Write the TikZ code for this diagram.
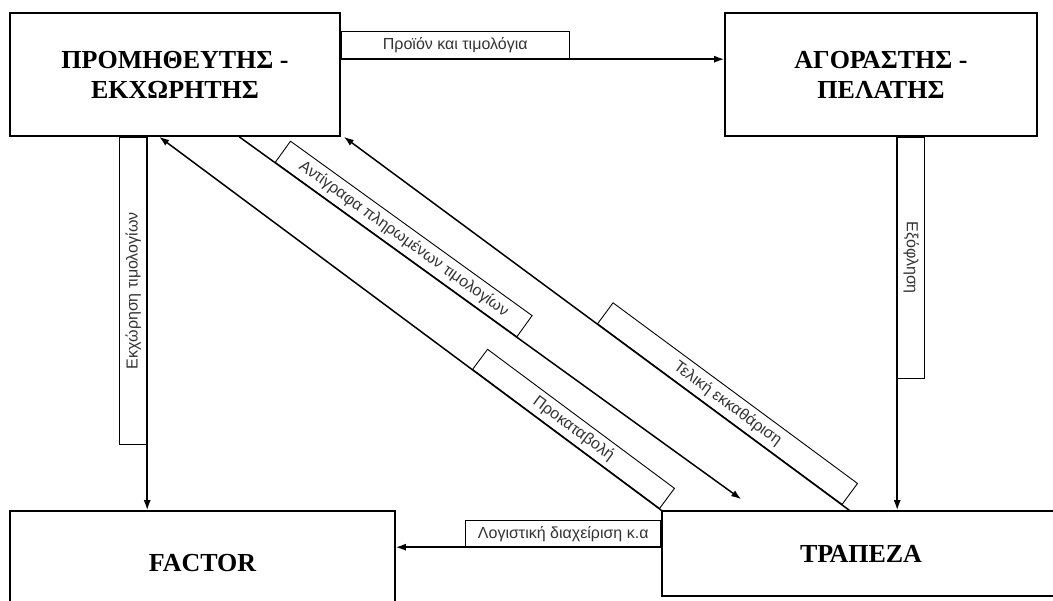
\documentclass[tikz,border=0pt]{standalone}
\usepackage{fontspec}
\setmainfont{Liberation Serif}
\setsansfont{Liberation Sans}
\usetikzlibrary{calc,arrows.meta}

\begin{document}
\begin{tikzpicture}[x=1pt, y=-1pt,
  entity/.style={draw, line width=1.6pt, inner sep=0pt, align=center,
    font=\fontsize{26}{30}\selectfont\bfseries},
  tag/.style={draw, line width=0.9pt, inner sep=0pt, minimum height=27pt,
    text=black!80, font=\sffamily\fontsize{16}{19}\selectfont},
  flow/.style={line width=1.5pt, >={Latex[length=10pt,width=7pt]}}]
\useasboundingbox (0,0) rectangle (1053,601);
\clip (0,0) rectangle (1053,601);
% the four parties
\node[entity, minimum width=330pt, minimum height=123pt] (supplier) at (175,74.5) {ΠΡΟΜΗΘΕΥΤΗΣ -\\ΕΚΧΩΡΗΤΗΣ};
\node[entity, minimum width=312pt, minimum height=123pt] (buyer) at (881,74.5) {ΑΓΟΡΑΣΤΗΣ -\\ΠΕΛΑΤΗΣ};
\node[entity, minimum width=385pt, minimum height=104pt] (factor) at (202.5,563) {FACTOR};
\node[entity, minimum width=398pt, minimum height=85pt] (bank) at (861,553.5) {ΤΡΑΠΕΖΑ};
% straight flows
\coordinate (s1) at ($(supplier.north east)+(0,47)$);
\draw[flow,->] (s1) -- (s1 -| buyer.west);
\node[tag, anchor=south west, minimum width=228pt] (tagproduct) at (s1) {Προϊόν και τιμολόγια};
\coordinate (s2) at ($(supplier.south west)+(138,0)$);
\draw[flow,->] (s2) -- (s2 |- factor.north);
\node[tag, rotate=90, anchor=south east, minimum width=307pt] (tagassign) at (s2) {Εκχώρηση τιμολογίων};
\coordinate (b1) at ($(buyer.south west)+(173,0)$);
\draw[flow,->] (b1) -- (b1 |- bank.north);
\node[tag, rotate=-90, anchor=south west, minimum width=241pt] (tagpay) at (b1) {Εξόφληση};
\coordinate (k1) at ($(bank.north west)+(0,37)$);
\draw[flow,->] (k1) -- (k1 -| factor.east);
\node[tag, anchor=south east, minimum width=195pt, minimum height=26pt] (tagbook) at (k1) {Λογιστική διαχείριση κ.α};
% diagonal flows
\draw[flow,<-] ($(supplier.south west)+(150,0)$) -- node[tag, sloped, anchor=south, pos=.81, minimum width=233pt, minimum height=25pt] (tagadvance) {Προκαταβολή} (bank.north west);
\draw[flow,->] ($(supplier.south west)+(230,0)$) -- node[tag, sloped, anchor=south, pos=.312, minimum width=298pt, minimum height=26pt] (tagcopies) {Αντίγραφα πληρωμένων τιμολογίων} ($(bank.north west)+(80,-11)$);
\draw[flow,<-] ($(supplier.south east)+(3,0)$) -- node[tag, sloped, anchor=south, pos=.7435, minimum width=304pt, minimum height=26pt] (tagfinal) {Τελική εκκαθάριση} ($(bank.north west)+(188,0)$);
\end{tikzpicture}
\end{document}
